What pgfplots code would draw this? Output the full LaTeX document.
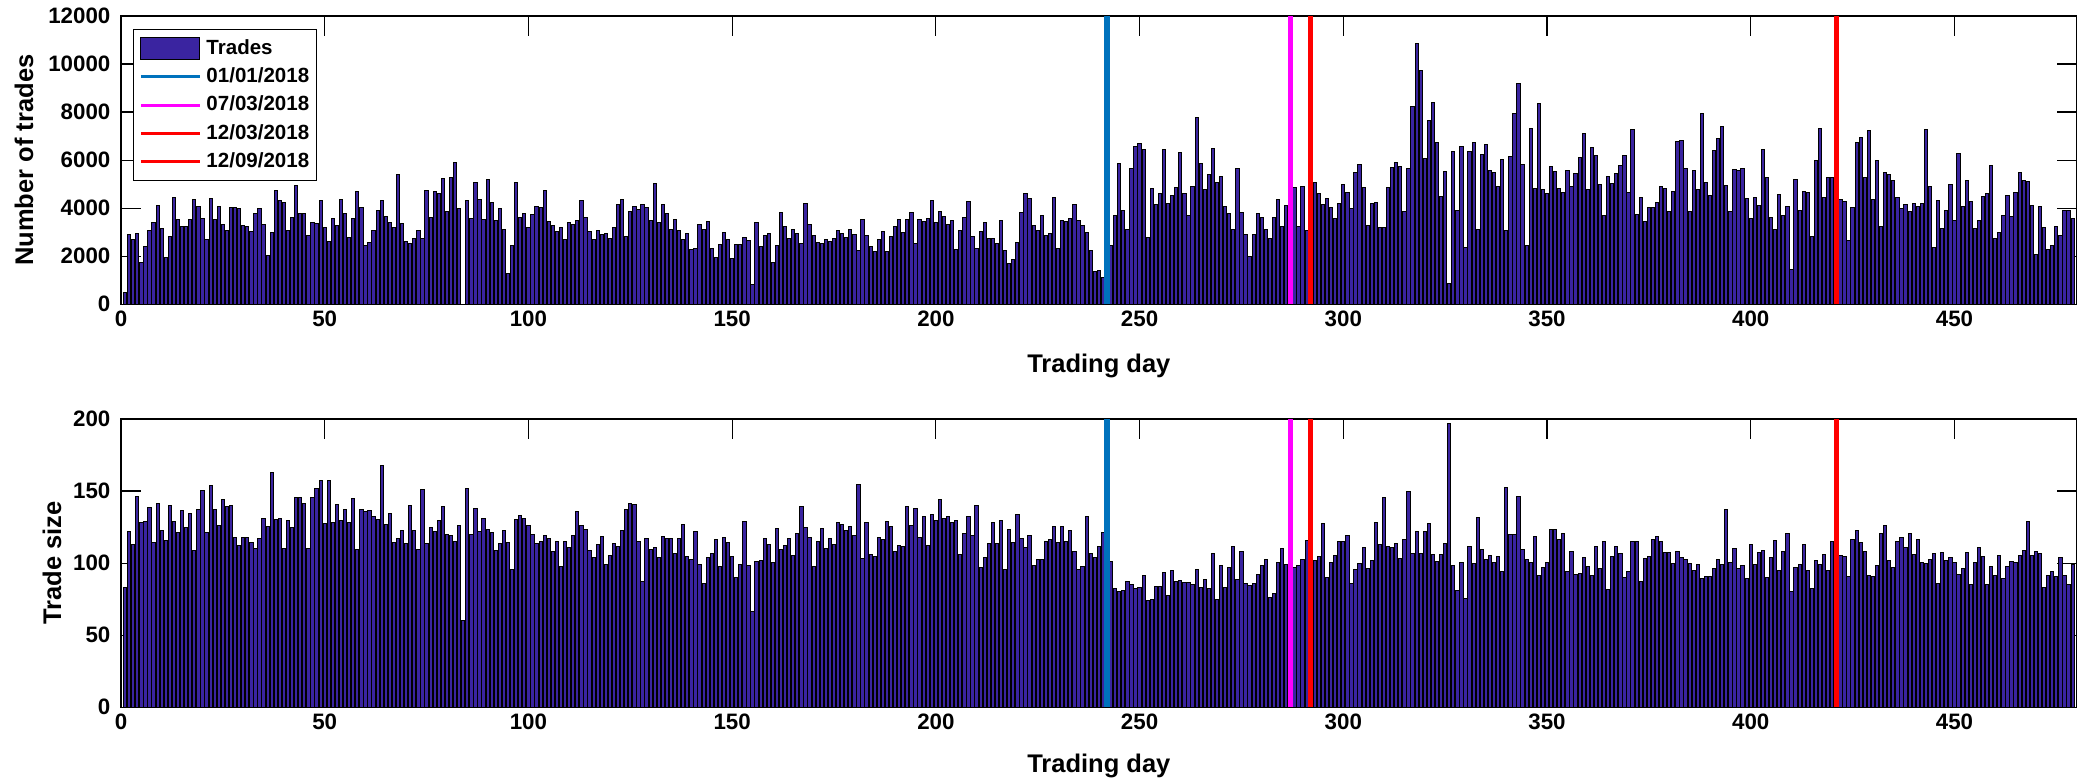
\documentclass[border=0pt]{standalone}
\usepackage{pgfplots}
\pgfplotsset{compat=1.18}
\usepackage{pgfplotstable}
\usepackage{fontspec}
\setmainfont{Liberation Sans}
\definecolor{barcol}{RGB}{58,36,160}
\definecolor{mblue}{RGB}{0,114,189}
\definecolor{mmag}{RGB}{255,0,255}
\definecolor{mred}{RGB}{255,0,0}

\pgfplotstableread[row sep=\\]{v\\
500\\2920\\2710\\2960\\1740\\2390\\3080\\3400\\4100\\3170\\
1940\\2820\\4460\\3540\\3240\\3250\\3530\\4380\\4060\\3580\\
2710\\4420\\3540\\4060\\3330\\3070\\4040\\4030\\4000\\3290\\
3220\\3030\\3790\\4000\\3330\\2040\\3000\\4720\\4330\\4250\\
3070\\3630\\4940\\3760\\3800\\2880\\3390\\3360\\4330\\3190\\
2610\\3580\\3290\\4350\\3790\\2760\\3580\\4710\\4030\\2430\\
2560\\3070\\3900\\4310\\3670\\3390\\3190\\5420\\3380\\2630\\
2540\\2750\\3080\\2750\\4750\\3600\\4690\\4610\\5220\\3850\\
5280\\5890\\4000\\0\\4330\\3580\\5060\\4380\\3540\\5210\\
4250\\3500\\4000\\3130\\1290\\2460\\5070\\3630\\3780\\3210\\
3750\\4070\\4040\\4740\\3430\\3280\\3030\\3210\\2710\\3390\\
3310\\3490\\4320\\3610\\3030\\2710\\3080\\2900\\2960\\2740\\
3190\\4170\\4380\\2820\\3860\\4070\\3940\\4150\\4040\\3490\\
5040\\3400\\4170\\3790\\3100\\3510\\3070\\2710\\2960\\2290\\
2310\\3330\\3110\\3430\\2310\\1930\\2500\\2970\\2680\\1890\\
2500\\2470\\2760\\2650\\820\\3420\\2400\\2850\\2940\\1720\\
2440\\3830\\3250\\2740\\3130\\2960\\2530\\4180\\3330\\2860\\
2560\\2510\\2710\\2600\\2750\\3060\\2960\\2790\\3130\\2920\\
2240\\3540\\2880\\2420\\2190\\2680\\3040\\2180\\2820\\3220\\
3540\\2970\\3540\\3820\\2540\\3540\\3430\\3580\\4330\\3390\\
3880\\3670\\3330\\3490\\2290\\3060\\3630\\4290\\2820\\2310\\
3030\\3400\\2740\\2740\\2540\\3490\\2250\\1710\\1850\\2580\\
3810\\4600\\4400\\3260\\3060\\3690\\2880\\2960\\4440\\2330\\
3470\\3460\\3570\\4170\\3470\\3290\\2970\\2220\\1350\\1420\\
1130\\1200\\2460\\3710\\5850\\3920\\3100\\5640\\6560\\6710\\
6440\\2760\\4830\\4140\\4630\\6460\\4190\\4540\\4880\\6330\\
4600\\3710\\4900\\7780\\5860\\4760\\5400\\6500\\5080\\5310\\
4080\\3790\\3100\\5650\\3820\\2920\\2000\\2920\\3780\\3600\\
3100\\2750\\3610\\4380\\3220\\4110\\4000\\4880\\3220\\4920\\
3060\\4000\\5080\\4600\\4170\\4400\\4040\\3560\\4180\\5000\\
4670\\4000\\5470\\5830\\4860\\3260\\4180\\4240\\3210\\3210\\
4860\\5710\\5920\\5750\\3850\\5670\\8240\\10850\\9750\\6060\\
7670\\8380\\6750\\4490\\5510\\850\\6380\\3890\\6570\\2360\\
6360\\6750\\3110\\6250\\6670\\5560\\5500\\4890\\6040\\3070\\
6170\\7960\\9180\\5820\\2460\\7330\\4820\\8360\\4760\\4610\\
5740\\5510\\4830\\4670\\5570\\4890\\5440\\6110\\7110\\4780\\
6540\\6180\\5000\\3710\\5310\\5010\\5460\\5780\\6190\\4650\\
7280\\3720\\4430\\3430\\4030\\4030\\4220\\4920\\4830\\3880\\
4690\\6790\\6810\\5640\\3880\\5570\\4760\\7940\\5080\\4510\\
6400\\6890\\7420\\4940\\3850\\5610\\5580\\5670\\4420\\3580\\
4460\\4100\\6430\\5280\\3630\\3100\\4580\\3680\\4080\\1460\\
5180\\3900\\4690\\4650\\2820\\6000\\7310\\4440\\5260\\5260\\
4500\\4380\\4290\\2640\\4030\\6740\\6940\\5260\\7220\\4380\\
5970\\3250\\5500\\5390\\5170\\4460\\4000\\4140\\3860\\4210\\
4060\\4190\\7280\\4920\\2380\\4320\\3150\\3890\\5000\\3470\\
6290\\4080\\5140\\4260\\3150\\3500\\4470\\4610\\5780\\2740\\
2970\\3710\\4540\\3650\\4650\\5500\\5150\\5130\\4110\\2080\\
4070\\3210\\2290\\2440\\3250\\2860\\3890\\3890\\3580\\
}\trades

\pgfplotstableread[row sep=\\]{v\\
83.3\\122.2\\112.7\\146.3\\128.2\\128.9\\138.9\\114.6\\141.4\\122.9\\
115.5\\140\\128.7\\121.1\\136.6\\124.5\\134.3\\108.6\\137.3\\150.5\\
121.5\\154.2\\137\\126.4\\144\\139.6\\140.3\\117.8\\112.5\\118\\
117.8\\114.4\\110.4\\117.4\\131\\125.7\\163.2\\130.6\\131\\110.4\\
129.9\\125\\145.6\\145.8\\141.2\\110.2\\145.8\\152.1\\157.4\\127.8\\
157.4\\128.5\\141\\129.9\\137.5\\128.5\\144.9\\109.3\\137.3\\135.6\\
136.8\\132.6\\130.3\\167.6\\127.1\\134.5\\114.4\\117.4\\122.5\\113.7\\
140\\122.9\\109.7\\150.9\\113.9\\124.8\\122.2\\129.4\\139.4\\120.1\\
119\\114.8\\126.2\\60\\151.9\\119.7\\138\\122\\131.3\\123.6\\
121.3\\109\\113.4\\122.7\\114.4\\95.8\\130.6\\133.1\\131\\126.4\\
119.7\\113.9\\115.3\\119\\116.9\\107.9\\115.3\\97.9\\114.8\\111.1\\
119.4\\136.1\\126.4\\123.1\\108.6\\103.7\\113.2\\118.3\\99.3\\105.6\\
113.7\\111.6\\122.5\\137.5\\141.2\\141\\115.3\\87.3\\117.1\\109.3\\
110.6\\104.2\\118.3\\117.4\\117.4\\106.7\\117.4\\126.9\\104.4\\102.8\\
122\\99.3\\86.1\\104.2\\106.5\\116.2\\97.7\\118\\114.6\\104.6\\
89.8\\99.3\\128.9\\98.4\\66.2\\101.4\\102.1\\117.1\\113.2\\100.2\\
124.3\\109.3\\112.3\\116.9\\105.3\\120.4\\139.1\\124.8\\118\\97.9\\
114.8\\124.3\\110\\117.4\\112.7\\128\\126.6\\122.9\\125.5\\119\\
154.9\\103\\128.2\\105.8\\104.9\\117.6\\116.7\\129.2\\125.2\\108.3\\
112.3\\111.8\\139.4\\126.4\\138.2\\117.6\\132.2\\112\\134\\129.9\\
144.4\\131\\132.4\\128.5\\129.9\\106\\120.6\\132.6\\119.2\\140.3\\
96.8\\104.2\\113.4\\128.2\\113.9\\129.6\\95.8\\123.4\\114.1\\134\\
117.4\\111.1\\119.4\\98.4\\102.3\\102.8\\114.8\\116.7\\125.2\\114.1\\
125.7\\115.3\\122.9\\108.3\\95.4\\97.5\\132.4\\106.9\\104.2\\111.3\\
121.1\\110\\101.2\\82.4\\80.1\\81.3\\87.3\\85.2\\82.2\\83.3\\
91.2\\73.8\\75\\83.8\\83.8\\93.8\\77.8\\95.1\\87\\88\\
86.6\\86.3\\85.2\\95.8\\82.9\\88.9\\82.2\\106.9\\74.5\\98.6\\
83.3\\96.8\\111.8\\88.4\\108.1\\85.6\\84.7\\85.9\\92.4\\98.4\\
102.3\\76.4\\78.9\\100.2\\110.4\\98.8\\100\\97.2\\98.1\\102.8\\
115.7\\105\\102.1\\104.9\\127.5\\89.8\\100.2\\105.1\\115\\115.3\\
119.4\\85.9\\95.4\\99.5\\110.6\\96.1\\102.1\\128.5\\112.7\\145.8\\
111.8\\111.1\\113.7\\103.5\\116.2\\150\\106.9\\122\\106.7\\122\\
127.5\\106\\101.4\\105.8\\113.4\\196.8\\98.1\\81\\100.7\\75.2\\
111.6\\99.5\\131.9\\109.7\\102.3\\105.6\\100.5\\104.9\\94\\152.5\\
119.9\\119.9\\146.1\\109.3\\102.3\\100.7\\118.3\\91.2\\97\\100.2\\
123.6\\123.6\\116.2\\120.4\\94.2\\108.1\\91.9\\92.8\\103.7\\97.5\\
91.2\\111.6\\96.1\\115\\81.9\\104.9\\111.6\\106.5\\90\\94.2\\
115\\115.3\\87\\103.2\\104.9\\116.4\\118.5\\115.3\\107.2\\107.6\\
100\\108.3\\104.2\\102.3\\100\\94.7\\99.1\\89.4\\91\\90.5\\
96.1\\102.5\\98.8\\137.5\\100.2\\110.4\\96.3\\98.6\\89.4\\113.2\\
99.3\\107.4\\109\\90.3\\104.2\\116\\94.9\\108.1\\120.8\\80.6\\
97\\98.8\\113.2\\94.7\\82.4\\102.1\\99.3\\106\\94.7\\115.3\\
110\\105.3\\104.6\\91\\116.4\\122.9\\114.1\\108.3\\91.4\\90.7\\
98.6\\120.6\\126.4\\101.9\\97.2\\115\\118\\110.9\\120.6\\105.8\\
116.4\\100.2\\99.8\\102.5\\106.9\\85.9\\107.2\\101.6\\104.2\\100.7\\
92.4\\96.1\\107.4\\85.4\\100.2\\110.9\\104.6\\85\\97.9\\91.7\\
105.6\\89.4\\97.5\\101.4\\100.5\\105.3\\109\\129.2\\105.6\\107.9\\
106.5\\83.3\\91.7\\94\\90.7\\104.2\\91.7\\85\\98.8\\
}\tsize

\pgfplotsset{
 myax/.style={
  scale only axis, width=977.85bp, height=144.15bp,
  xmin=0, xmax=480, ymin=0,
  xtick={0,50,...,450},
  tick align=inside, major tick length=10bp,
  axis line style={line width=0.6bp, black},
  every tick/.style={line width=0.6bp, black},
  /pgf/number format/assume math mode=true,
  ticklabel style={font=\bfseries\fontsize{11.2}{13}\selectfont},
  yticklabel style={/pgf/number format/fixed, /pgf/number format/1000 sep={}, xshift=-1.8bp},
  scaled y ticks=false,
  label style={font=\bfseries\fontsize{12.8}{15}\selectfont},
  xlabel={Trading day},
  axis on top=false,
 },
 barstyle/.style={ybar, bar width=0.8, fill=barcol, draw=black, line width=0.5bp},
 vline/.style={line width=2.7bp, legend image code/.code={\draw[##1, line width=1.5bp] (0bp,0bp) -- (29.5bp,0bp);}},
}

\begin{document}
\begin{tikzpicture}
\useasboundingbox (0,0) rectangle (1039.5bp,391bp);
\begin{axis}[myax,
  at={(60.5bp,238.85bp)}, anchor=south west,
  ymax=12000, ytick={0,2000,...,12000},
  ylabel={Number of trades},
  ylabel style={at={(axis description cs:-0.0496,0.5)}, anchor=center},
  xlabel style={at={(axis description cs:0.5,-0.214)}, anchor=center},
  legend style={at={(axis description cs:0.00634,0.9535)}, anchor=north west,
    draw=black, line width=0.5bp, fill=white,
    font=\bfseries\fontsize{10.3}{12}\selectfont,
    inner xsep=2.8bp, inner ysep=2bp, row sep=0bp,
    nodes={inner xsep=1bp, inner ysep=2.65bp},
    /tikz/every odd column/.style={column sep=1.5bp}},
  legend cell align=left,
]
\addplot[barstyle, legend image code/.code={\draw[fill=barcol,draw=black,line width=0.5bp] (0bp,-5.5bp) rectangle (29.5bp,5.5bp);}]
  table[x expr=\coordindex+1, y=v]{\trades};
\addplot[vline, color=mblue] coordinates {(242,0) (242,12000)};
\addplot[vline, color=mmag] coordinates {(287,0) (287,12000)};
\addplot[vline, color=mred] coordinates {(292,0) (292,12000)};
\addplot[vline, color=mred] coordinates {(421,0) (421,12000)};
\legend{Trades,01/01/2018,07/03/2018,12/03/2018,12/09/2018}
\end{axis}
\begin{axis}[myax,
  at={(60.5bp,37.35bp)}, anchor=south west,
  ymax=200, ytick={0,50,...,200},
  ylabel={Trade size},
  ylabel style={at={(axis description cs:-0.0353,0.5)}, anchor=center},
  xlabel style={at={(axis description cs:0.5,-0.205)}, anchor=center},
]
\addplot[barstyle] table[x expr=\coordindex+1, y=v]{\tsize};
\addplot[vline, color=mblue] coordinates {(242,0) (242,200)};
\addplot[vline, color=mmag] coordinates {(287,0) (287,200)};
\addplot[vline, color=mred] coordinates {(292,0) (292,200)};
\addplot[vline, color=mred] coordinates {(421,0) (421,200)};
\end{axis}
\end{tikzpicture}
\end{document}
